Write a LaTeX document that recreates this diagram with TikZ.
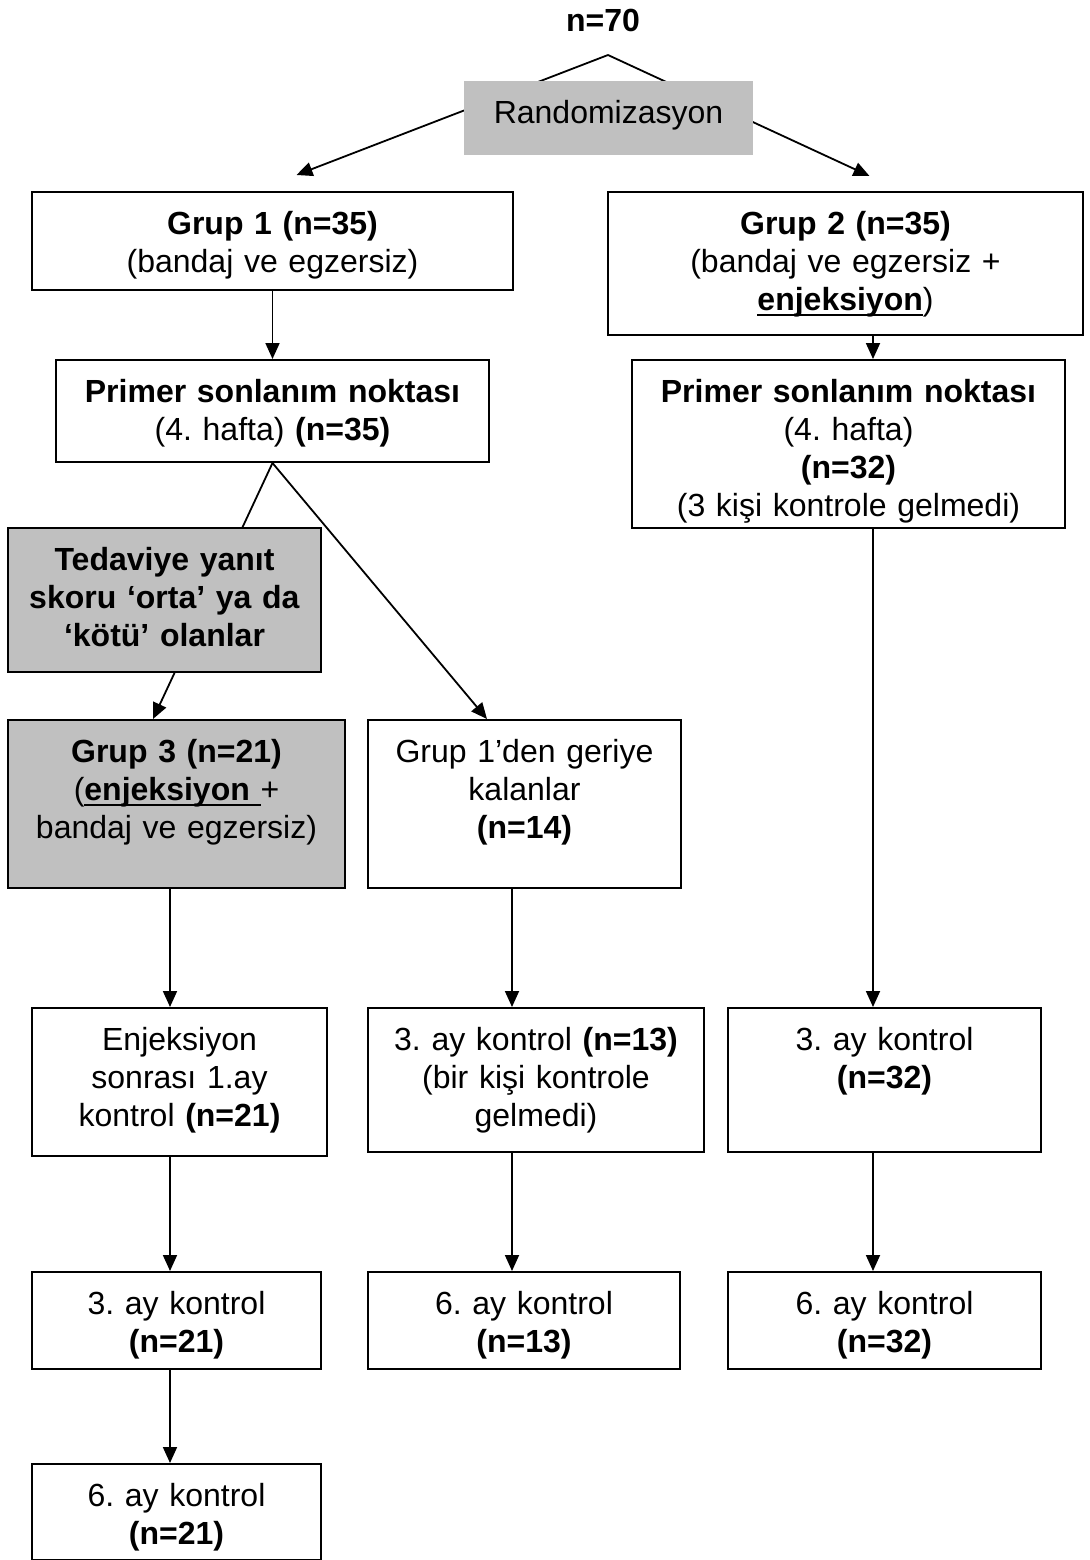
\documentclass[tikz,border=0pt]{standalone}
\usepackage{fontspec}
\setmainfont{Liberation Sans}
\usetikzlibrary{arrows.meta}
\definecolor{boxgray}{RGB}{192,192,192}
\frenchspacing
\newcommand{\ulword}[1]{\leavevmode\setbox0\hbox{#1}\rlap{\rule[-3.2pt]{\wd0}{1pt}}\box0}
\tikzset{
  box/.style={draw, line width=1pt, anchor=north, align=center, inner sep=0pt, text height=21pt},
  graybox/.style={box, fill=boxgray},
}

\begin{document}
\begin{tikzpicture}[x=0.5pt, y=-0.5pt, line width=0.9pt, font=\fontsize{16}{19}\selectfont,
    >={Triangle[length=8pt,width=7pt]}]
    \useasboundingbox (0,0) rectangle (1090,1560);

    \node (n70) at (603,20) {\textbf{n=70}};
    \coordinate (split) at (608,55);
    \coordinate (cola) at (170,0);
    \coordinate (colb) at (512,0);
    \coordinate (colc) at (873,0);

    \node[box, text width=240.5pt, text depth=28pt] (grup1) at (272.5,191) {\textbf{Grup 1 (n=35)}\\(bandaj ve egzersiz)};
    \node[box, text width=237.5pt, text depth=50.5pt] (grup2) at (845.5,191) {\textbf{Grup 2 (n=35)}\\(bandaj ve egzersiz +\\\ulword{\textbf{enjeksiyon}})};
    \node[box, text width=216.5pt, text depth=30pt] (prim1) at (272.5,359) {\textbf{Primer sonlanım noktası}\\(4. hafta) \textbf{(n=35)}};
    \node[box, text width=216.5pt, text depth=63pt] (prim2) at (848.5,359) {\textbf{Primer sonlanım noktası}\\(4. hafta)\\\textbf{(n=32)}\\(3 kişi kontrole gelmedi)};
    \node[graybox, text width=168.5pt, text depth=63pt] (grup3) at (176.5,719) {\textbf{Grup 3 (n=21)}\\(\ulword{\textbf{enjeksiyon }}+\\bandaj ve egzersiz)};
    \node[box, text width=156.5pt, text depth=63pt] (kalan) at (524.5,719) {Grup 1’den geriye\\kalanlar\\\textbf{(n=14)}};
    \node[box, text width=147.5pt, text depth=53pt] (enj1) at (179.5,1007) {Enjeksiyon\\sonrası 1.ay\\kontrol \textbf{(n=21)}};
    \node[box, text width=168pt, text depth=51pt] (ay3b) at (536,1007) {3. ay kontrol \textbf{(n=13)}\\(bir kişi kontrole\\gelmedi)};
    \node[box, text width=156.5pt, text depth=51pt] (ay3c) at (884.5,1007) {3. ay kontrol\\\textbf{(n=32)}};
    \node[box, text width=144.5pt, text depth=27.5pt] (ay3a) at (176.5,1271) {3. ay kontrol\\\textbf{(n=21)}};
    \node[box, text width=156pt, text depth=27.5pt] (ay6b) at (524,1271) {6. ay kontrol\\\textbf{(n=13)}};
    \node[box, text width=156.5pt, text depth=27.5pt] (ay6c) at (884.5,1271) {6. ay kontrol\\\textbf{(n=32)}};
    \node[box, text width=144.5pt, text depth=27pt] (ay6a) at (176.5,1463) {6. ay kontrol\\\textbf{(n=21)}};

    \draw[->] (split) -- ([xshift=12pt,yshift=8pt]grup1.north);
    \draw[->] (split) -- ([xshift=12pt,yshift=7.5pt]grup2.north);
    \node[box, draw=none, fill=boxgray, text width=144.5pt, text depth=16pt] (rand) at (608.5,80) {Randomizasyon};

    \draw[->] (grup1) -- (prim1);
    \draw[->] (grup2.south -| colc) -- (prim2.north -| colc);
    \draw[->] (prim1.south) -- ([xshift=-11.75pt]grup3.north);
    \draw[->] (prim1.south) -- ([xshift=-18.75pt]kalan.north);
    \node[graybox, text width=156.5pt, text depth=51pt] (tedav) at (164.5,527) {\textbf{Tedaviye yanıt}\\\textbf{skoru ‘orta’ ya da}\\\textbf{‘kötü’ olanlar}};

    \draw[->] (grup3.south -| cola) -- (enj1.north -| cola);
    \draw[->] (enj1.south -| cola) -- (ay3a.north -| cola);
    \draw[->] (ay3a.south -| cola) -- (ay6a.north -| cola);
    \draw[->] (kalan.south -| colb) -- (ay3b.north -| colb);
    \draw[->] (ay3b.south -| colb) -- (ay6b.north -| colb);
    \draw[->] (prim2.south -| colc) -- (ay3c.north -| colc);
    \draw[->] (ay3c.south -| colc) -- (ay6c.north -| colc);
\end{tikzpicture}
\end{document}
